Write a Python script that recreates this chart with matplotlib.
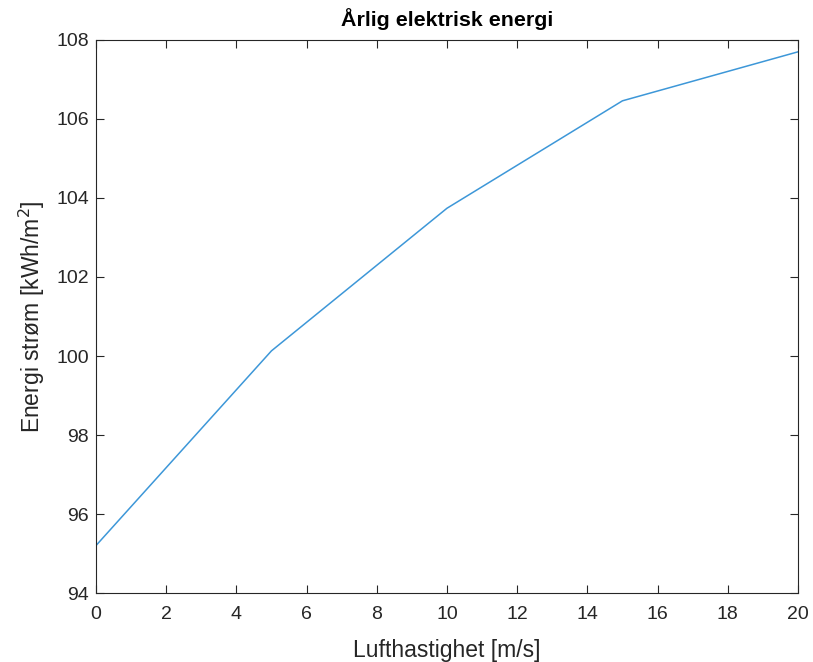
import matplotlib
matplotlib.use("Agg")
from matplotlib import pyplot as plt

plt.rcParams["font.family"] = ["Liberation Sans", "DejaVu Sans"]

air_speed = [0, 5, 10, 15, 20]
energy = [95.20, 100.13, 103.74, 106.46, 107.70]

x_ticks = list(range(0, 21, 2))
y_ticks = list(range(94, 109, 2))

text_color = "#262626"

fig = plt.figure(figsize=(8.13, 6.62), dpi=100)
ax = fig.add_axes([0.118, 0.1042, 0.8635, 0.8354])

ax.plot(air_speed, energy, color="#3D97D8", linewidth=1.1)

ax.set_xlim(0, 20)
ax.set_ylim(94, 108)
ax.set_xticks(x_ticks)
ax.set_yticks(y_ticks)
ax.tick_params(direction="in", top=True, right=True, length=6, width=0.8,
               labelsize=14, colors=text_color, pad=5)
ax.tick_params(axis="x", pad=9)
for spine in ax.spines.values():
    spine.set_color(text_color)
    spine.set_linewidth(0.8)

ax.set_xlabel("Lufthastighet [m/s]", fontsize=16.5, color=text_color, labelpad=12)
ax.set_ylabel("Energi strøm [kWh/m$^2$]", fontsize=16.5, color=text_color, labelpad=7)
ax.set_title("Årlig elektrisk energi", fontsize=15.4, fontweight="bold", color="black", pad=10)

fig.savefig("out.png", dpi=100)
